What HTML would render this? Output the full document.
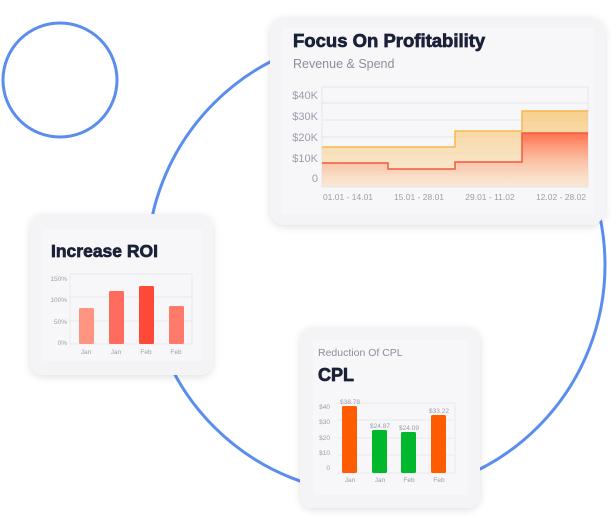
<!DOCTYPE html>
<html><head><meta charset="utf-8"><style>
html,body{margin:0;padding:0;background:#fff;}
body{width:611px;height:516px;overflow:hidden;position:relative;font-family:"Liberation Sans",sans-serif;}
svg{position:absolute;left:0;top:0;}
</style></head><body>
<svg width="611" height="516" viewBox="0 0 611 516" xmlns="http://www.w3.org/2000/svg" font-family="Liberation Sans, sans-serif">
<defs>
<filter id="sh" x="-20%" y="-20%" width="140%" height="140%"><feDropShadow dx="0" dy="2" stdDeviation="4" flood-color="#000" flood-opacity="0.12"/></filter>
<linearGradient id="og" x1="0" y1="0" x2="0" y2="1"><stop offset="0" stop-color="#f8c97a" stop-opacity="0.85"/><stop offset="1" stop-color="#f8dfb8" stop-opacity="0.5"/></linearGradient>
<linearGradient id="rg" x1="0" y1="0" x2="0" y2="1"><stop offset="0" stop-color="#ff6a4a" stop-opacity="0.95"/><stop offset="1" stop-color="#ffd0c0" stop-opacity="0.1"/></linearGradient>
</defs>
<circle cx="60" cy="80" r="57" fill="none" stroke="#5b8def" stroke-width="3"/>
<circle cx="376" cy="265" r="229" fill="none" stroke="#5b8def" stroke-width="3"/>

<!-- Card 1 -->
<rect x="270" y="17" width="335" height="208" rx="15" fill="#f4f4f6" filter="url(#sh)"/>
<rect x="282" y="28" width="312" height="186" fill="#f7f7f9"/>
<text x="293" y="47" font-size="18.5" font-weight="bold" fill="#1b2137" stroke="#1b2137" stroke-width="0.7">Focus On Profitability</text>
<text x="293" y="68" font-size="12.5" fill="#8a8e9c">Revenue &amp; Spend</text>
<g stroke="#e6e6ea" stroke-width="1">
<line x1="322" y1="103" x2="588" y2="103"/><line x1="322" y1="120" x2="588" y2="120"/><line x1="322" y1="137" x2="588" y2="137"/><line x1="322" y1="153" x2="588" y2="153"/><line x1="322" y1="170" x2="588" y2="170"/>
<rect x="322" y="87" width="266" height="100" fill="none"/>
</g>
<path d="M322,147 H388 V147 H455 V131 H522 V111 H588 V187 H322 Z" fill="url(#og)"/>
<path d="M322,163 H388 V169 H455 V162 H522 V133 H588 V187 H322 Z" fill="url(#rg)"/>
<path d="M322,147 H388 V147 H455 V131 H522 V111 H588" fill="none" stroke="#f6b94e" stroke-width="1.5"/>
<path d="M322,163 H388 V169 H455 V162 H522 V133 H588" fill="none" stroke="#f25a3c" stroke-width="1.5"/>
<g font-size="11" fill="#9a9eab" text-anchor="end">
<text x="318" y="99">$40K</text><text x="318" y="120">$30K</text><text x="318" y="141">$20K</text><text x="318" y="162">$10K</text><text x="318" y="182">0</text>
</g>
<g font-size="8.5" fill="#9a9eab" text-anchor="middle">
<text x="348" y="200">01.01 - 14.01</text><text x="419" y="200">15.01 - 28.01</text><text x="490" y="200">29.01 - 11.02</text><text x="561" y="200">12.02 - 28.02</text>
</g>

<!-- Card 2 -->
<rect x="30" y="214" width="183" height="161" rx="13" fill="#f4f4f6" filter="url(#sh)"/>
<rect x="42" y="229" width="160" height="132" fill="#f7f7f9"/>
<text x="51" y="257" font-size="17.5" font-weight="bold" fill="#1b2137" stroke="#1b2137" stroke-width="0.7">Increase ROI</text>
<g stroke="#e8e8ec" stroke-width="1">
<line x1="70" y1="274" x2="192" y2="274"/><line x1="70" y1="297" x2="192" y2="297"/><line x1="70" y1="321" x2="192" y2="321"/><line x1="70" y1="344" x2="192" y2="344"/>
<line x1="70" y1="274" x2="70" y2="344"/><line x1="192" y1="274" x2="192" y2="344"/>
</g>
<rect x="79" y="308" width="15" height="36" rx="1.5" fill="#ff9580"/>
<rect x="109" y="291" width="15" height="53" rx="1.5" fill="#ff6b5c"/>
<rect x="139" y="286" width="15" height="58" rx="1.5" fill="#ff4a38"/>
<rect x="169" y="306" width="15" height="38" rx="1.5" fill="#ff7a6a"/>
<g font-size="6.5" fill="#9a9eab" text-anchor="end">
<text x="67" y="281">150%</text><text x="67" y="302">100%</text><text x="67" y="324">50%</text><text x="67" y="345">0%</text>
</g>
<g font-size="6.5" fill="#9a9eab" text-anchor="middle">
<text x="86" y="354">Jan</text><text x="116" y="354">Jan</text><text x="146" y="354">Feb</text><text x="176" y="354">Feb</text>
</g>

<!-- Card 3 -->
<rect x="300" y="327" width="180" height="181" rx="13" fill="#f4f4f6" filter="url(#sh)"/>
<rect x="313" y="340" width="155" height="155" fill="#f7f7f9"/>
<text x="318" y="356" font-size="10.5" fill="#8a8e9c">Reduction Of CPL</text>
<text x="318" y="381" font-size="18" font-weight="bold" fill="#1b2137" stroke="#1b2137" stroke-width="0.7">CPL</text>
<g stroke="#e8e8ec" stroke-width="1">
<line x1="337" y1="403" x2="455" y2="403"/><line x1="337" y1="420" x2="455" y2="420"/><line x1="337" y1="438" x2="455" y2="438"/><line x1="337" y1="455" x2="455" y2="455"/><line x1="337" y1="473" x2="455" y2="473"/>
<line x1="455" y1="403" x2="455" y2="473"/>
</g>
<rect x="342" y="406" width="15" height="67" rx="1.5" fill="#ff5c00"/>
<rect x="372" y="430" width="15" height="43" rx="1.5" fill="#00b82c"/>
<rect x="401" y="432" width="15" height="41" rx="1.5" fill="#00b82c"/>
<rect x="431" y="415" width="15" height="58" rx="1.5" fill="#ff5c00"/>
<g font-size="6.5" fill="#9a9eab" text-anchor="middle">
<text x="350" y="404">$38.78</text><text x="380" y="428">$24.87</text><text x="409" y="430">$24.09</text><text x="439" y="413">$33.22</text>
<text x="350" y="482">Jan</text><text x="380" y="482">Jan</text><text x="409" y="482">Feb</text><text x="439" y="482">Feb</text>
</g>
<g font-size="6.5" fill="#9a9eab" text-anchor="end">
<text x="330" y="409">$40</text><text x="330" y="424">$30</text><text x="330" y="440">$20</text><text x="330" y="455">$10</text><text x="330" y="470">0</text>
</g>
</svg>
</body></html>
